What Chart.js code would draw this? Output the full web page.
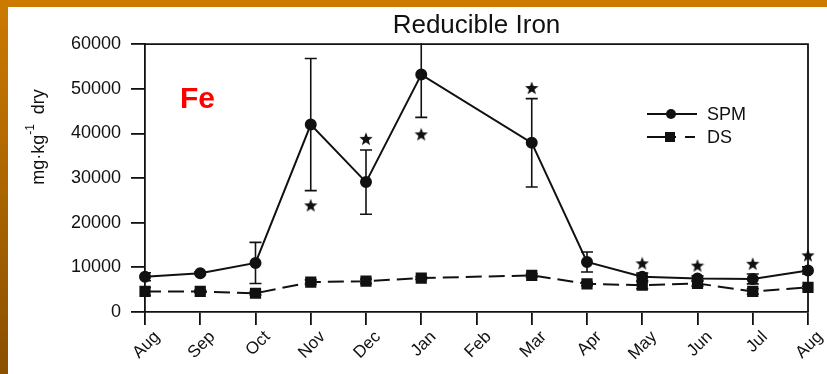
<!DOCTYPE html>
<html>
<head>
<meta charset="utf-8">
<script src="https://cdn.jsdelivr.net/npm/chart.js@4.4.1/dist/chart.umd.min.js"></script>
<style>
html,body{margin:0;padding:0;background:#fff;width:827px;height:374px;overflow:hidden}
#top{position:absolute;left:0;top:0;width:827px;height:7px;background:#cc7a00}
#side{position:absolute;left:0;top:0;width:8px;height:374px;background:linear-gradient(#cc7a00,#8a5000)}
#wrap{position:absolute;left:8px;top:7px;width:819px;height:367px}
</style>
</head>
<body>
<div id="top"></div><div id="side"></div>
<div id="wrap"><canvas id="c" width="819" height="367"></canvas></div>
<script>
// --- data ---
const months = ['Aug','Sep','Oct','Nov','Dec','Jan','Feb','Mar','Apr','May','Jun','Jul','Aug'];
const spm    = [7900, 8700, 11000, 42000, 29100, 53200, null, 37900, 11200, 7900, 7500, 7400, 9300];
const spmErr = [900, 300, 4600, 14800, 7200, 9600, null, 9900, 2250, 800, 600, 1100, 800];
const ds     = [4600, 4600, 4200, 6700, 6900, 7600, null, 8200, 6300, 6000, 6400, 4600, 5500];
const dsErr  = [900, 300, 400, 500, 500, 300, null, 400, 400, 800, 600, 600, 300];
const stars  = [null, null, null, 23900, 38800, 39800, null, 50200, null, 10900, 10400, 10800, 12700];

const FONT = "'Liberation Sans', Arial, sans-serif";
const INK = '#111';

// filled five-point star used as the significance marker
function starImg(sz) {
  const cv = document.createElement('canvas');
  cv.width = sz; cv.height = sz;
  const g = cv.getContext('2d');
  const cx = sz/2, cy = sz/2+0.5, R = sz/2, r = R*0.42;
  g.beginPath();
  for (let i=0;i<10;i++) {
    const a = -Math.PI/2 + i*Math.PI/5;
    const rr = i%2 ? r : R;
    g.lineTo(cx+rr*Math.cos(a), cy+rr*Math.sin(a));
  }
  g.closePath();
  g.fillStyle = INK; g.fill();
  return cv;
}

// error bars (drawn under the markers)
const errBars = {
  id:'errBars',
  beforeDatasetsDraw(chart){
    const {ctx, chartArea:a, scales:{x,y}} = chart;
    ctx.save();
    ctx.beginPath(); ctx.rect(a.left, a.top-1, a.right-a.left, a.bottom-a.top+2); ctx.clip();
    ctx.strokeStyle = INK; ctx.lineWidth = 1.6;
    [[spm,spmErr],[ds,dsErr]].forEach(([vals,errs])=>{
      vals.forEach((v,i)=>{
        if (v==null || !errs[i]) return;
        const px = x.getPixelForValue(i);
        const y1 = y.getPixelForValue(v+errs[i]), y0 = y.getPixelForValue(v-errs[i]);
        ctx.beginPath();
        ctx.moveTo(px,y0); ctx.lineTo(px,y1);
        ctx.moveTo(px-6,y0); ctx.lineTo(px+6,y0);
        ctx.moveTo(px-6,y1); ctx.lineTo(px+6,y1);
        ctx.stroke();
      });
    });
    ctx.restore();
  }
};

// frame, y title, Fe label and legend
const extras = {
  id:'extras',
  afterDraw(chart){
    const {ctx, chartArea:a} = chart;
    ctx.save();
    ctx.strokeStyle = INK; ctx.lineWidth = 1.8;
    ctx.beginPath();
    ctx.moveTo(a.left, a.top); ctx.lineTo(a.right, a.top); ctx.lineTo(a.right, a.bottom);
    ctx.stroke();

    // y axis title with superscript
    ctx.save();
    ctx.translate(31, 130); ctx.rotate(-Math.PI/2);
    ctx.fillStyle = INK; ctx.textBaseline = 'middle';
    const p1 = 'mg\u00b7kg', p3 = '  dry';
    ctx.font = '12px '+FONT; const w2 = ctx.measureText('-1').width;
    ctx.font = '18px '+FONT;
    const w1 = ctx.measureText(p1).width, w3 = ctx.measureText(p3).width;
    let sx = -(w1+w2+w3)/2;
    ctx.fillText(p1, sx, 0); sx += w1;
    ctx.font = '12px '+FONT; ctx.fillText('-1', sx, -8); sx += w2;
    ctx.font = '18px '+FONT; ctx.fillText(p3, sx, 0);
    ctx.restore();

    // Fe
    ctx.fillStyle = '#ff0000'; ctx.font = 'bold 30px '+FONT;
    ctx.textBaseline = 'alphabetic'; ctx.fillText('Fe', 172, 101);

    // legend
    ctx.fillStyle = INK; ctx.lineWidth = 2;
    ctx.beginPath(); ctx.moveTo(639,107); ctx.lineTo(689,107); ctx.stroke();
    ctx.beginPath(); ctx.arc(663,107,5,0,Math.PI*2); ctx.fill();
    ctx.beginPath(); ctx.moveTo(639,130); ctx.lineTo(668,130); ctx.moveTo(677,130); ctx.lineTo(687,130); ctx.stroke();
    ctx.fillRect(657,125,10,10);
    ctx.font = '18px '+FONT; ctx.textBaseline = 'middle';
    ctx.fillText('SPM', 699, 108);
    ctx.fillText('DS', 699, 131);
    ctx.restore();
  }
};

new Chart(document.getElementById('c'), {
  type:'line',
  data:{
    labels: months,
    datasets:[
      {label:'SPM', data:spm, borderColor:INK, backgroundColor:INK, borderWidth:2,
       pointRadius:5, pointStyle:'circle', spanGaps:true, tension:0},
      {label:'DS', data:ds, borderColor:INK, backgroundColor:INK, borderWidth:2,
       borderDash:[16,7], pointRadius:6.5, pointStyle:'rect', spanGaps:true, tension:0},
      {label:'sig', data:stars, showLine:false, pointStyle:starImg(14), pointRadius:7}
    ]
  },
  options:{
    responsive:false, animation:false,
    layout:{padding:{left:0, right:19, top:0, bottom:0}},
    plugins:{
      legend:{display:false}, tooltip:{enabled:false},
      title:{display:true, text:'Reducible Iron', fullSize:false, color:INK,
             font:{family:FONT, size:26, weight:'normal'}, padding:{top:3, bottom:3}}
    },
    scales:{
      x:{
        offset:false,
        grid:{drawOnChartArea:false, drawTicks:true, tickLength:13, color:INK, lineWidth:1.8},
        border:{display:true, color:INK, width:1.8},
        ticks:{color:INK, font:{family:FONT, size:17}, minRotation:45, maxRotation:45,
               autoSkip:false, labelOffset:12, padding:2},
        afterFit(s){ s.height = 62; }
      },
      y:{
        min:0, max:60000,
        grid:{drawOnChartArea:false, drawTicks:true, tickLength:14, color:INK, lineWidth:1.8},
        border:{display:true, color:INK, width:1.8},
        ticks:{stepSize:10000, color:INK, font:{family:FONT, size:18}, padding:10,
               callback:v=>String(v)},
        afterFit(s){ s.width = 137; }
      }
    }
  },
  plugins:[errBars, extras]
});
</script>
</body>
</html>
